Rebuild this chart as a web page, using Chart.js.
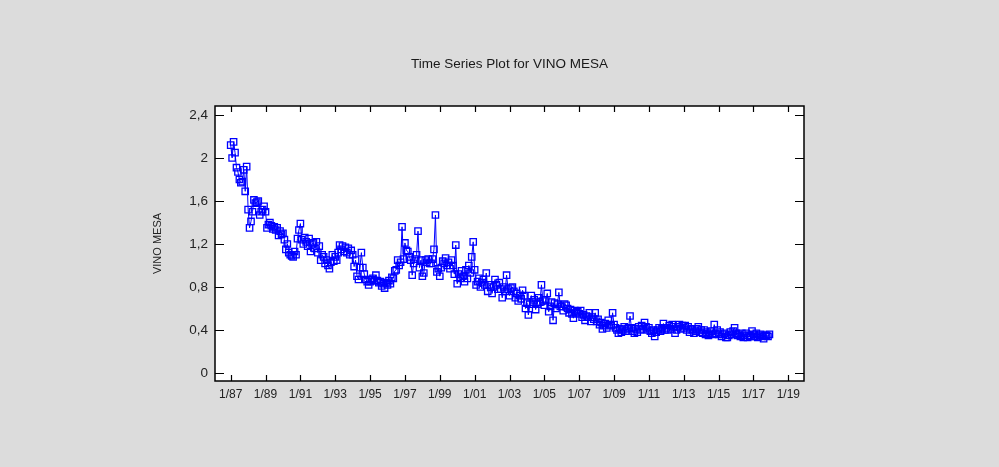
<!DOCTYPE html>
<html><head><meta charset="utf-8">
<script src="https://cdn.jsdelivr.net/npm/chart.js@4.4.1/dist/chart.umd.min.js"></script>
<style>html,body{margin:0;padding:0;background:#dcdcdc;}#wrap{width:999px;height:467px;position:relative;}</style>
</head><body><div id="wrap"><canvas id="c" width="999" height="467"></canvas></div>
<script>
const chartTitle = 'Time Series Plot for VINO MESA';
const seriesName = 'VINO MESA';
const startYear = 1987; // monthly series starting 1/87
const values = [
 2.12,2.00,2.15,2.05,1.91,1.87,1.80,1.77,1.78,1.89,1.69,1.92,
 1.52,1.35,1.41,1.50,1.61,1.58,1.59,1.60,1.47,1.50,1.52,1.55,
 1.50,1.35,1.38,1.40,1.37,1.34,1.36,1.33,1.35,1.28,1.32,1.29,
 1.30,1.24,1.15,1.20,1.12,1.10,1.09,1.08,1.13,1.10,1.25,1.33,
 1.39,1.24,1.20,1.26,1.22,1.18,1.25,1.13,1.20,1.21,1.16,1.22,
 1.12,1.18,1.05,1.10,1.08,1.02,1.05,1.00,0.97,1.03,1.10,1.04,
 1.08,1.05,1.12,1.19,1.15,1.18,1.13,1.17,1.12,1.16,1.10,1.14,
 1.10,0.99,1.05,0.90,0.87,0.98,1.12,0.98,0.92,0.87,0.85,0.82,
 0.85,0.87,0.88,0.86,0.91,0.86,0.84,0.85,0.81,0.83,0.79,0.84,
 0.82,0.86,0.83,0.89,0.88,0.95,0.96,1.05,1.00,1.03,1.36,1.06,
 1.21,1.14,1.13,1.08,1.05,0.91,1.02,1.06,1.10,1.32,0.98,1.05,
 0.90,0.93,1.05,1.03,1.06,1.02,1.02,1.06,1.15,1.47,0.94,0.97,
 0.90,0.98,1.04,1.02,1.07,1.00,1.03,0.97,1.05,1.00,0.92,1.19,
 0.83,0.92,0.88,0.95,0.90,0.85,0.96,0.88,1.00,0.93,1.08,1.22,
 0.96,0.82,0.85,0.88,0.80,0.84,0.87,0.82,0.93,0.76,0.82,0.80,
 0.74,0.80,0.87,0.82,0.78,0.84,0.78,0.70,0.80,0.76,0.91,0.78,
 0.72,0.79,0.80,0.76,0.70,0.74,0.67,0.72,0.69,0.77,0.72,0.60,
 0.65,0.54,0.64,0.72,0.66,0.68,0.59,0.64,0.70,0.66,0.82,0.67,
 0.63,0.68,0.74,0.57,0.62,0.66,0.49,0.65,0.60,0.64,0.75,0.62,
 0.62,0.58,0.64,0.63,0.60,0.56,0.59,0.55,0.51,0.58,0.56,0.57,
 0.55,0.58,0.52,0.54,0.49,0.53,0.52,0.56,0.48,0.52,0.50,0.56,
 0.48,0.50,0.45,0.47,0.41,0.44,0.46,0.42,0.49,0.45,0.44,0.56,
 0.45,0.42,0.40,0.37,0.41,0.38,0.40,0.43,0.39,0.41,0.42,0.53,
 0.42,0.39,0.37,0.41,0.38,0.43,0.40,0.44,0.41,0.47,0.43,0.40,
 0.42,0.39,0.37,0.40,0.34,0.38,0.40,0.42,0.39,0.41,0.46,0.40,
 0.42,0.40,0.44,0.41,0.45,0.43,0.37,0.40,0.43,0.45,0.41,0.44,
 0.42,0.44,0.40,0.43,0.38,0.41,0.40,0.37,0.39,0.41,0.43,0.38,
 0.40,0.37,0.40,0.36,0.38,0.35,0.37,0.39,0.36,0.45,0.37,0.40,
 0.36,0.38,0.34,0.36,0.37,0.33,0.33,0.35,0.38,0.36,0.39,0.42,
 0.37,0.35,0.36,0.34,0.37,0.33,0.35,0.37,0.33,0.35,0.34,0.39,
 0.36,0.34,0.37,0.33,0.35,0.36,0.34,0.32,0.35,0.35,0.34,0.36
];
const xTickMonths = [0,24,48,72,96,120,144,168,192,216,240,264,288,312,336,360,384];
const xTickLabels = ['1/87','1/89','1/91','1/93','1/95','1/97','1/99','1/01','1/03','1/05','1/07','1/09','1/11','1/13','1/15','1/17','1/19'];
const yTickValues = [0,0.4,0.8,1.2,1.6,2,2.4];
const yTickLabels = ['0','0,4','0,8','1,2','1,6','2','2,4'];

const points = values.map((v,i)=>({x:i, y:v}));

const framePlugin = {
  id:'frame',
  beforeDraw(chart){
    const {ctx, chartArea:a} = chart;
    ctx.save();
    ctx.fillStyle = '#ffffff';
    ctx.fillRect(a.left, a.top, a.right-a.left, a.bottom-a.top);
    ctx.restore();
  },
  afterDraw(chart){
    const {ctx, chartArea:a, scales} = chart;
    ctx.save();
    ctx.strokeStyle = '#000';
    ctx.lineWidth = 1.5;
    ctx.strokeRect(a.left, a.top, a.right-a.left, a.bottom-a.top);
    ctx.lineWidth = 1.2;
    ctx.beginPath();
    xTickMonths.forEach(m=>{
      const px = Math.round(scales.x.getPixelForValue(m))+0.5;
      ctx.moveTo(px, a.bottom); ctx.lineTo(px, a.bottom-6);
      ctx.moveTo(px, a.top); ctx.lineTo(px, a.top+6);
    });
    yTickValues.forEach(v=>{
      const py = Math.round(scales.y.getPixelForValue(v))+0.5;
      ctx.moveTo(a.left, py); ctx.lineTo(a.left+9, py);
      ctx.moveTo(a.right, py); ctx.lineTo(a.right-9, py);
    });
    ctx.stroke();
    ctx.fillStyle = '#1a1a1a';
    ctx.font = '13.5px "Liberation Sans", Arial, sans-serif';
    ctx.textAlign = 'center';
    ctx.textBaseline = 'middle';
    ctx.fillText(chartTitle, (a.left+a.right)/2, 64);
    ctx.restore();
  }
};

new Chart(document.getElementById('c'), {
  type:'line',
  data:{datasets:[{
    label: seriesName,
    data: points,
    borderColor:'#0000ff',
    backgroundColor:'rgba(0,0,0,0)',
    borderWidth:1,
    pointStyle:'rect',
    pointRadius:4.5,
    pointBorderWidth:1.3,
    pointBorderColor:'#0000ff',
    pointBackgroundColor:'rgba(0,0,0,0)',
    tension:0
  }]},
  options:{
    responsive:false,
    animation:false,
    devicePixelRatio:1,
    layout:{padding:{left:0,right:195,top:106,bottom:0}},
    plugins:{legend:{display:false}, tooltip:{enabled:false}, title:{display:false}},
    scales:{
      x:{
        type:'linear', min:-10.8, max:394.8,
        grid:{display:false, drawTicks:false},
        border:{display:false},
        afterBuildTicks(s){ s.ticks = xTickMonths.map(v=>({value:v})); },
        afterFit(s){ s.height = 86; },
        ticks:{autoSkip:false, maxRotation:0, padding:6, color:'#222',
          font:{family:'"Liberation Sans", Arial, sans-serif', size:12},
          callback(v){ const i = xTickMonths.indexOf(v); return i>=0 ? xTickLabels[i] : ''; }}
      },
      y:{
        type:'linear', min:-0.0744, max:2.4837,
        grid:{display:false, drawTicks:false},
        border:{display:false},
        afterBuildTicks(s){ s.ticks = yTickValues.map(v=>({value:v})); },
        afterFit(s){ s.width = 215; },
        title:{display:true, text:seriesName, color:'#222', padding:{top:151,bottom:0},
          font:{family:'"Liberation Sans", Arial, sans-serif', size:11}},
        ticks:{autoSkip:false, padding:7, color:'#222',
          font:{family:'"Liberation Sans", Arial, sans-serif', size:13.5},
          callback(v){ const i = yTickValues.indexOf(v); return i>=0 ? yTickLabels[i] : ''; }}
      }
    }
  },
  plugins:[framePlugin]
});
</script></body></html>
